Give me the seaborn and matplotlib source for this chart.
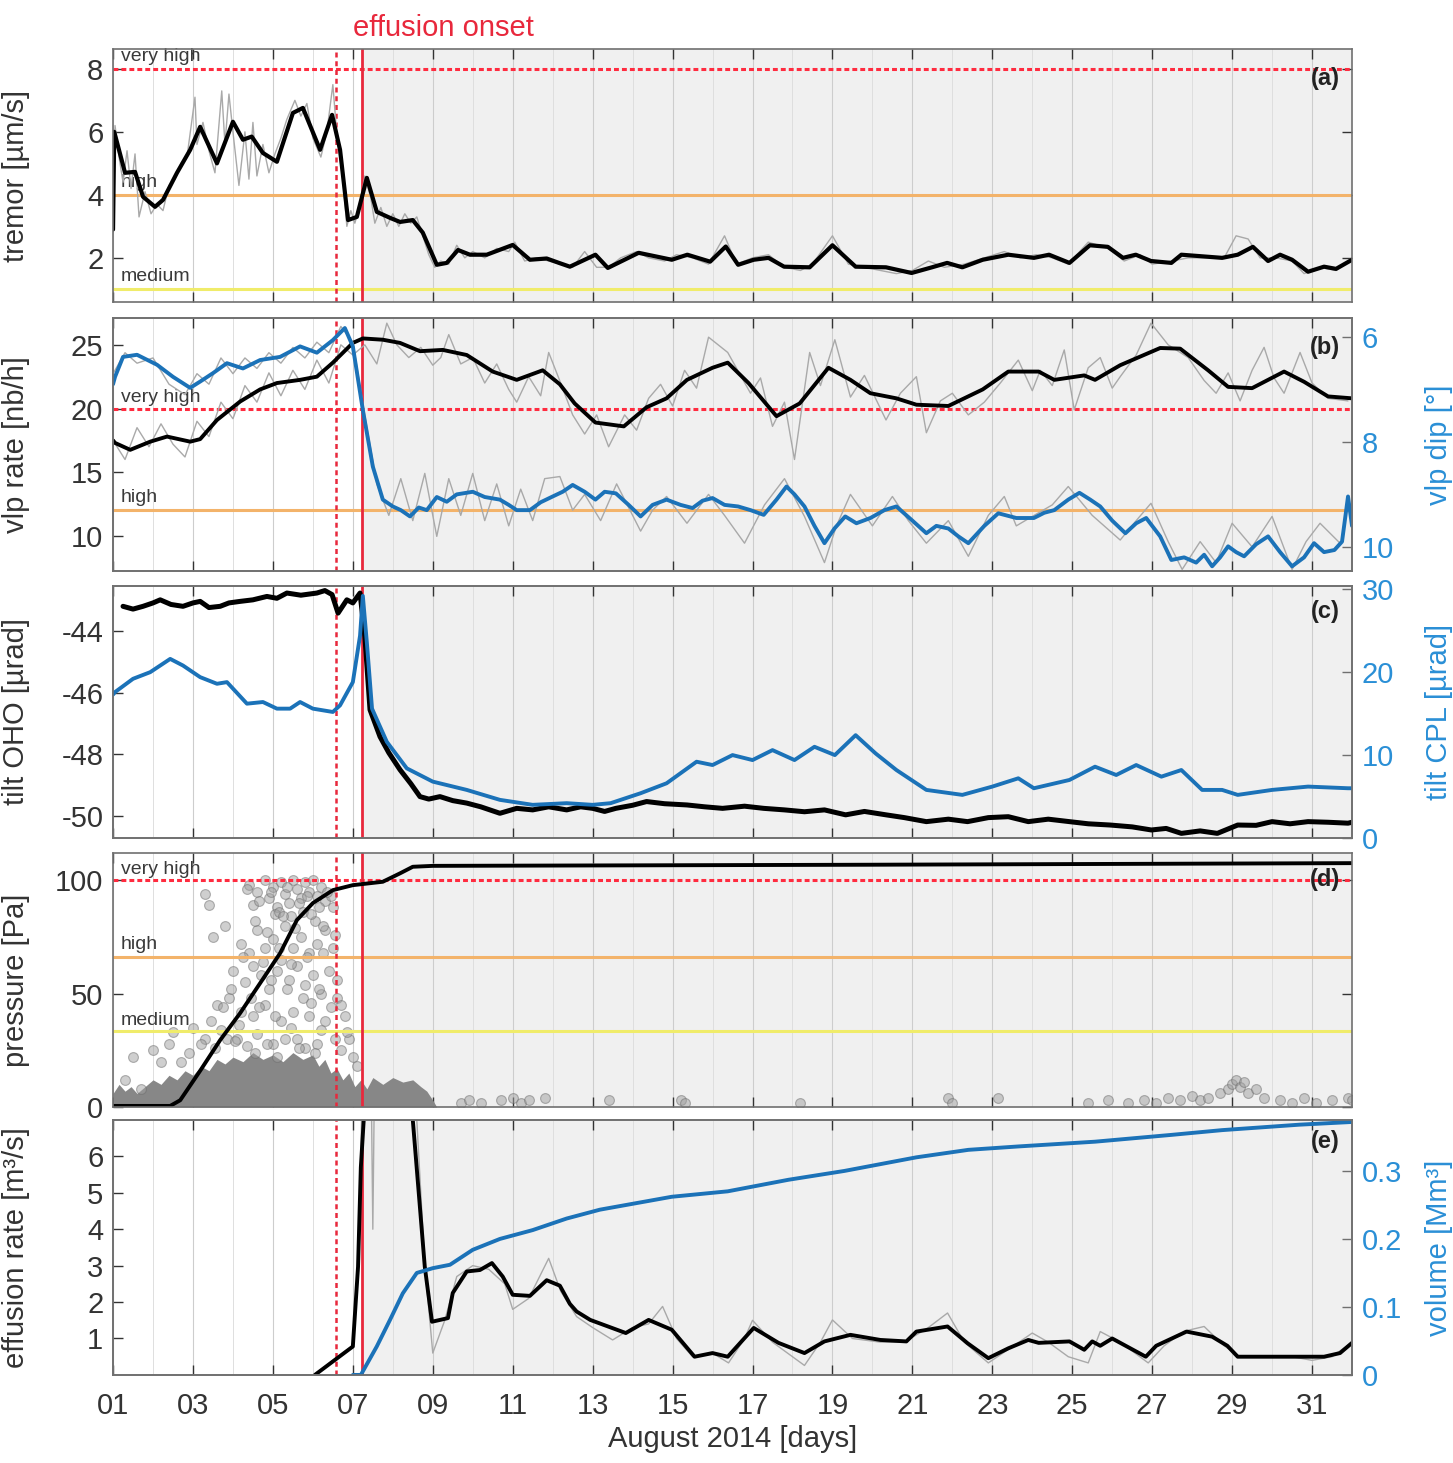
'''
Multi-panel monitoring time series, August 2014 (tremor, vlp, tilt, pressure, effusion).
'''
import matplotlib
matplotlib.use('Agg')
import matplotlib.pyplot as plt
import seaborn as sns

# ---- data (day of August 2014, value) ---------------------------------------
pre_onset = 6.58
onset = 7.22

# (a) tremor [um/s]
tremor_day = [1.0, 1.03, 1.3, 1.55, 1.75, 2.05, 2.25, 2.6, 2.93, 3.18, 3.6, 4.0, 4.25, 4.47, 4.75,
              5.1, 5.5, 5.75, 6.18, 6.48, 6.68, 6.88, 7.1, 7.35, 7.6, 7.93, 8.18, 8.5, 8.75, 9.1,
              9.35, 9.63, 9.93, 10.35, 11.0, 11.43, 11.85, 12.18, 12.43, 13.07, 13.38, 14.15, 14.98,
              15.37, 15.94, 16.33, 16.64, 17.03, 17.4, 17.79, 18.43, 19.0, 19.58, 20.34, 20.98,
              21.49, 21.87, 22.25, 22.76, 23.4, 24.04, 24.42, 24.93, 25.44, 25.89, 26.27, 26.59,
              26.97, 27.48, 27.73, 28.75, 29.14, 29.52, 29.9, 30.2, 30.5, 30.9, 31.3, 31.6, 32.0]
tremor_val = [2.9, 6.0, 4.7, 4.73, 3.94, 3.62, 3.84, 4.7, 5.43, 6.16, 5.0, 6.32, 5.75, 5.85, 5.33,
              5.05, 6.6, 6.76, 5.43, 6.54, 5.43, 3.2, 3.3, 4.54, 3.46, 3.27, 3.14, 3.2, 2.8, 1.78,
              1.84, 2.25, 2.1, 2.1, 2.41, 1.94, 1.98, 1.83, 1.72, 2.10, 1.68, 2.16, 1.94,
              2.10, 1.88, 2.36, 1.78, 1.94, 2.0, 1.72, 1.70, 2.4, 1.72, 1.70, 1.52,
              1.70, 1.84, 1.70, 1.94, 2.10, 2.0, 2.1, 1.84, 2.40, 2.35, 2.0, 2.1,
              1.9, 1.84, 2.1, 2.0, 2.1, 2.35, 1.9, 2.1, 1.94, 1.56, 1.72, 1.65, 1.94]
tremor_raw_day = [1.0, 1.05, 1.15, 1.25, 1.35, 1.45, 1.55, 1.65, 1.8, 1.95, 2.1, 2.25, 2.4, 2.55,
                  2.7, 2.85, 3.05, 3.1, 3.25, 3.4, 3.55, 3.72, 3.8, 3.9, 4.0, 4.15, 4.3, 4.4, 4.5,
                  4.6, 4.75, 4.9, 5.05, 5.2, 5.35, 5.55, 5.7, 5.85, 6.0, 6.2, 6.35, 6.5, 6.6, 6.75,
                  6.85, 6.95, 7.05, 7.2, 7.3, 7.45, 7.55, 7.7, 7.85, 8.0, 8.15, 8.3, 8.45, 8.6,
                  8.75, 8.9, 9.05, 9.2, 9.4, 9.6, 9.8, 10.0, 10.3, 10.6, 10.9, 11.05, 11.3, 11.6,
                  11.9, 12.2, 12.5, 12.8, 13.1, 13.4, 13.7, 14.1, 14.4, 14.8, 15.1, 15.5, 15.9,
                  16.3, 16.6, 17.0, 17.4, 17.8, 18.2, 18.5, 19.0, 19.4, 19.8, 20.2, 20.6, 21.0,
                  21.4, 21.8, 22.3, 22.8, 23.3, 23.7, 24.1, 24.5, 24.9, 25.4, 25.9, 26.3, 26.7,
                  27.0, 27.5, 27.9, 28.4, 28.8, 29.1, 29.4, 29.7, 30.1, 30.5, 30.8, 31.2, 31.6, 32.0]
tremor_raw_val = [2.8, 6.2, 5.2, 4.4, 5.4, 4.2, 5.3, 3.3, 4.1, 3.4, 3.7, 3.5, 4.3, 4.5,
                  5.0, 5.2, 7.1, 5.6, 6.3, 5.4, 4.7, 7.3, 5.6, 7.2, 6.0, 4.3, 6.0, 4.5, 6.3,
                  4.6, 5.6, 4.7, 5.3, 5.8, 6.4, 7.0, 6.5, 6.9, 5.8, 5.2, 6.0, 7.5, 5.9, 4.5,
                  3.0, 3.5, 3.1, 3.8, 4.6, 3.9, 3.1, 3.6, 3.0, 3.4, 3.0, 3.4, 3.1, 3.3,
                  2.7, 2.1, 1.7, 1.9, 1.8, 2.4, 2.0, 2.2, 2.0, 2.3, 2.2, 2.5, 1.9, 2.0,
                  1.9, 1.8, 1.7, 2.2, 1.7, 1.7, 2.0, 2.2, 2.0, 1.9, 2.1, 2.0, 1.8,
                  2.7, 1.8, 2.0, 2.1, 1.7, 1.6, 1.8, 2.7, 1.8, 1.7, 1.6, 1.5, 1.6,
                  1.9, 1.7, 1.8, 2.0, 2.2, 2.0, 2.1, 2.0, 1.8, 2.5, 2.3, 1.9, 2.1,
                  1.8, 1.9, 2.0, 2.0, 2.0, 2.7, 2.6, 2.0, 2.0, 1.9, 1.5, 1.7, 1.6, 2.0]

# (b) vlp rate [nb/h] and vlp dip [deg]
vlp_day = [1.0, 1.05, 1.43, 1.93, 2.35, 2.93, 3.18, 3.6, 4.18, 4.68, 5.1, 5.68, 6.1, 6.5, 7.0,
           7.25, 7.75, 8.18, 8.68, 9.25, 9.85, 10.5, 11.1, 11.75, 12.18, 12.55, 13.07, 13.78,
           14.35, 14.85, 15.36, 16.0, 16.38, 16.9, 17.6, 18.18, 18.9, 19.45, 19.95, 20.6, 21.1,
           21.9, 22.76, 23.4, 24.16, 24.55, 25.3, 25.57, 26.2, 27.2, 27.7, 28.4, 28.9, 29.5,
           30.3, 30.8, 31.4, 32.0]
vlp_rate = [17.5, 17.3, 16.76, 17.4, 17.8, 17.4, 17.6, 19.1, 20.55, 21.5, 22.0, 22.25, 22.5, 23.6,
            25.15, 25.5, 25.4, 25.15, 24.5, 24.6, 24.2, 22.9, 22.25, 23.0, 21.9, 20.4, 18.9, 18.6,
            20.1, 20.8, 22.25, 23.2, 23.6, 22.0, 19.4, 20.4, 23.2, 22.25, 21.2, 20.8, 20.3,
            20.2, 21.5, 22.9, 22.9, 22.25, 22.6, 22.25, 23.4, 24.75, 24.7, 23.0, 21.7, 21.6,
            22.9, 22.1, 20.95, 20.8]
vlp_raw_day = [1.0, 1.3, 1.6, 1.9, 2.2, 2.5, 2.8, 3.1, 3.4, 3.7, 4.0, 4.3, 4.6, 4.9, 5.2, 5.5,
               5.8, 6.1, 6.4, 6.7, 7.0, 7.3, 7.6, 7.85, 8.1, 8.4, 8.7, 9.0, 9.2, 9.4, 9.7, 10.0,
               10.3, 10.6, 10.9, 11.1, 11.4, 11.7, 11.9, 12.2, 12.5, 12.8, 13.1, 13.4, 13.8, 14.1,
               14.4, 14.7, 15.0, 15.3, 15.6, 15.9, 16.38, 16.7, 16.95, 17.2, 17.5, 17.8, 18.05,
               18.43, 18.7, 19.06, 19.45, 19.8, 20.34, 20.7, 21.1, 21.35, 21.7, 22.0, 22.4, 22.8,
               23.2, 23.65, 24.0, 24.2, 24.5, 24.8, 25.05, 25.4, 25.7, 26.0, 26.2, 26.6, 26.97,
               27.4, 27.9, 28.3, 28.6, 28.9, 29.2, 29.5, 29.8, 30.05, 30.3, 30.7, 31.0, 31.4,
               31.9]
vlp_raw_rate = [17.5, 16.0, 18.5, 17.0, 18.8, 17.2, 16.2, 19.0, 17.8, 20.5, 19.2, 21.8, 20.5,
                22.8, 21.0, 23.0, 21.5, 23.8, 22.0, 25.0, 24.2, 25.0, 23.5, 26.7, 25.0, 24.0,
                24.8, 23.4, 24.0, 25.8, 23.5, 24.0, 22.0, 23.5, 21.5, 20.5, 22.5, 21.0, 24.4,
                22.0, 19.5, 18.0, 19.5, 17.0, 19.5, 18.3, 20.8, 21.9, 20.2, 23.0, 21.6, 25.6,
                24.4, 22.6, 21.2, 22.4, 18.6, 20.5, 16.0, 24.4, 21.8, 25.4, 20.9, 22.6, 19.1,
                21.2, 22.5, 18.1, 20.6, 21.2, 19.5, 20.5, 22.0, 23.8, 21.4, 23.0, 21.8, 24.6,
                19.9, 23.2, 24.0, 21.6, 22.5, 24.2, 26.7, 25.0, 24.0, 22.2, 21.2, 22.8, 20.6,
                23.0, 24.8, 22.4, 21.2, 24.4, 22.0, 20.8, 20.6]
dip_day = [1.0, 1.05, 1.25, 1.6, 2.1, 2.5, 2.93, 3.18, 3.5, 3.85, 4.25, 4.68, 5.18, 5.68, 6.1,
           6.5, 6.8, 7.0, 7.25, 7.5, 7.75, 8.0, 8.2, 8.43, 8.65, 8.85, 9.1, 9.35, 9.6, 10.0,
           10.3, 10.68, 10.9, 11.1, 11.43, 11.7, 12.0, 12.25, 12.5, 12.8, 13.07, 13.3, 13.58,
           13.9, 14.2, 14.5, 14.85, 15.2, 15.5, 15.75, 16.0, 16.3, 16.64, 16.95, 17.28, 17.6,
           17.85, 18.05, 18.3, 18.55, 18.8, 19.05, 19.32, 19.6, 19.95, 20.3, 20.6, 21.0, 21.35,
           21.6, 21.9, 22.15, 22.4, 22.8, 23.15, 23.6, 24.04, 24.3, 24.55, 24.9, 25.18, 25.45,
           25.7, 26.0, 26.33, 26.6, 26.85, 27.2, 27.48, 27.8, 28.1, 28.3, 28.5, 28.7, 28.9,
           29.1, 29.3, 29.6, 29.9, 30.2, 30.5, 30.8, 31.05, 31.3, 31.56, 31.75, 31.9, 32.0]
dip_val = [6.9, 6.76, 6.38, 6.34, 6.53, 6.76, 6.97, 6.85, 6.69, 6.5, 6.6, 6.44, 6.38, 6.18, 6.3,
           6.06, 5.83, 6.18, 7.39, 8.47, 9.1, 9.23, 9.3, 9.42, 9.25, 9.3, 9.05, 9.14, 9.0, 8.95,
           9.05, 9.1, 9.2, 9.3, 9.3, 9.15, 9.04, 8.95, 8.82, 8.95, 9.1, 8.95, 8.98,
           9.2, 9.42, 9.2, 9.1, 9.2, 9.26, 9.12, 9.07, 9.2, 9.23, 9.3, 9.39, 9.1,
           8.85, 9.0, 9.23, 9.6, 9.93, 9.65, 9.42, 9.55, 9.45, 9.3, 9.23, 9.5, 9.74,
           9.6, 9.65, 9.8, 9.93, 9.6, 9.36, 9.45, 9.45, 9.35, 9.3, 9.1, 8.97, 9.1,
           9.23, 9.5, 9.74, 9.55, 9.45, 9.8, 10.25, 10.2, 10.3, 10.15, 10.37, 10.2, 9.99,
           10.1, 10.18, 9.95, 9.8, 10.1, 10.37, 10.2, 9.93, 10.1, 10.06, 9.9, 9.04, 9.6]
dip_raw_day = [1.0, 1.3, 1.6, 2.0, 2.4, 2.8, 3.1, 3.4, 3.7, 4.0, 4.3, 4.6, 4.9, 5.2, 5.5, 5.8,
               6.1, 6.4, 6.7, 7.0, 7.3, 7.6, 7.9, 8.2, 8.5, 8.8, 9.1, 9.4, 9.7, 10.0, 10.3, 10.6,
               10.9, 11.2, 11.5, 11.8, 12.18, 12.5, 12.8, 13.2, 13.6, 14.2, 14.5, 14.85, 15.36,
               15.9, 16.3, 16.8, 17.3, 17.8, 18.3, 18.8, 19.1, 19.45, 20.0, 20.5, 20.9, 21.35,
               21.9, 22.4, 22.9, 23.3, 23.6, 24.0, 24.5, 24.9, 25.5, 26.2, 26.6, 26.97, 27.4,
               27.75, 28.2, 28.6, 29.0, 29.5, 30.0, 30.5, 30.85, 31.2, 31.7]
dip_raw_val = [6.7, 6.3, 6.5, 6.4, 6.9, 7.1, 6.7, 6.9, 6.4, 6.7, 6.4, 6.6, 6.3, 6.5, 6.2, 6.4,
               6.1, 6.3, 5.8, 6.1, 7.5, 8.8, 9.4, 8.7, 9.5, 8.6, 9.8, 8.7, 9.4, 8.6, 9.5, 8.8,
               9.6, 8.9, 9.5, 8.7, 8.66, 9.3, 9.0, 9.5, 8.8, 9.7, 9.3, 9.04, 9.55, 9.0, 9.4,
               9.93, 9.2, 8.7, 9.42, 10.3, 9.6, 9.0, 9.6, 9.04, 9.5, 9.93, 9.5, 10.18, 9.4,
               9.04, 9.6, 9.42, 9.2, 8.85, 9.4, 9.87, 9.5, 9.17, 9.9, 10.43, 9.9, 10.3, 9.55,
               10.0, 9.42, 10.43, 9.9, 9.55, 9.93]

# (c) tilt OHO and tilt CPL [urad]
oho_day = [1.25, 1.5, 1.75, 2.0, 2.18, 2.45, 2.75, 3.0, 3.18, 3.4, 3.68, 3.9, 4.18, 4.5, 4.85,
           5.1, 5.35, 5.7, 6.1, 6.3, 6.48, 6.63, 6.85, 7.0, 7.18, 7.3, 7.43, 7.68, 7.9, 8.18,
           8.45, 8.68, 8.9, 9.18, 9.5, 9.85, 10.2, 10.68, 11.1, 11.5, 11.9, 12.35, 12.7, 13.0,
           13.3, 13.58, 14.0, 14.35, 14.8, 15.36, 15.8, 16.25, 16.8, 17.28, 17.8, 18.3, 18.8,
           19.33, 19.8, 20.34, 20.8, 21.35, 21.9, 22.38, 22.9, 23.4, 23.9, 24.4, 24.93, 25.4,
           25.95, 26.5, 26.98, 27.35, 27.73, 28.2, 28.63, 29.14, 29.6, 30.0, 30.45, 30.9,
           31.4, 31.9, 32.0]
oho_val = [-43.21, -43.3, -43.21, -43.1, -43.0, -43.15, -43.21, -43.1, -43.05, -43.25, -43.21,
           -43.1, -43.05, -43.0, -42.89, -42.95, -42.78, -42.85, -42.78, -42.7, -42.83, -43.43,
           -43.0, -43.1, -42.78, -44.18, -46.56, -47.43, -47.95, -48.5, -48.95, -49.37, -49.45,
           -49.37, -49.5, -49.58, -49.7, -49.91, -49.75, -49.8, -49.7, -49.8, -49.7, -49.75,
           -49.85, -49.75, -49.65, -49.53, -49.6, -49.64, -49.7, -49.75, -49.68, -49.75,
           -49.8, -49.86, -49.8, -49.96, -49.85, -49.96, -50.05, -50.18, -50.1, -50.18, -50.05,
           -50.02, -50.18, -50.1, -50.18, -50.25, -50.29, -50.35, -50.45, -50.4, -50.56,
           -50.48, -50.56, -50.29, -50.3, -50.18, -50.25, -50.18, -50.2, -50.23, -50.2]
cpl_day = [1.0, 1.05, 1.5, 1.93, 2.43, 2.75, 3.18, 3.6, 3.85, 4.35, 4.75, 5.1, 5.43, 5.68, 6.0,
           6.5, 6.68, 7.0, 7.18, 7.25, 7.35, 7.48, 7.85, 8.35, 9.0, 9.85, 10.68, 11.5, 12.35,
           13.0, 13.45, 14.2, 14.85, 15.6, 16.0, 16.5, 17.0, 17.5, 18.05, 18.55, 19.06, 19.58,
           20.08, 20.6, 21.35, 22.25, 23.0, 23.65, 24.04, 24.93, 25.57, 26.1, 26.6, 27.23,
           27.73, 28.25, 28.75, 29.14, 30.0, 30.9, 31.9, 32.0]
cpl_val = [17.3, 17.6, 19.2, 20.0, 21.6, 20.8, 19.4, 18.6, 18.8, 16.2, 16.4, 15.6, 15.6, 16.4,
           15.6, 15.2, 16.0, 18.8, 24.4, 29.2, 23.6, 15.6, 11.6, 8.4, 6.8, 5.8, 4.6, 4.0, 4.2,
           4.0, 4.2, 5.4, 6.6, 9.2, 8.8, 10.0, 9.4, 10.6, 9.4, 11.0, 10.0, 12.4,
           10.2, 8.2, 5.8, 5.2, 6.2, 7.2, 6.0, 7.0, 8.6, 7.6, 8.8, 7.4,
           8.2, 5.8, 5.8, 5.2, 5.8, 6.2, 6.0, 6.0]

# (d) infrasound pressure [Pa]
pres_day = [1.0, 2.43, 2.68, 3.18, 3.68, 4.18, 4.68, 5.18, 5.6, 6.0, 6.5, 7.0, 7.75, 8.18, 8.5,
            9.0, 20.0, 32.0]
pres_val = [0.5, 0.5, 3.0, 16.0, 29.5, 41.4, 54.6, 67.8, 82.4, 89.9, 95.6, 97.8, 99.3, 103.0,
            105.9, 106.3, 106.8, 107.5]
dense_day = [1.0, 1.15, 1.3, 1.45, 1.6, 1.8, 2.0, 2.2, 2.4, 2.6, 2.8, 3.0, 3.2, 3.4, 3.6, 3.8,
             4.0, 4.25, 4.5, 4.75, 5.0, 5.25, 5.5, 5.75, 6.0, 6.15, 6.3, 6.45, 6.6, 6.75, 6.9,
             7.05, 7.2, 7.35, 7.5, 7.75, 8.0, 8.25, 8.5, 8.7, 8.85, 9.0, 9.1]
dense_top = [6, 10, 7, 9, 6, 9, 12, 10, 14, 12, 16, 14, 18, 16, 21, 19, 22, 20, 24, 21, 23, 20,
             24, 21, 23, 18, 21, 15, 17, 12, 15, 9, 12, 8, 13, 10, 13, 11, 12, 9, 7, 3, 0]
event_day = [4.4, 4.6, 4.8, 4.9, 5.0, 5.1, 5.2, 5.3, 5.4, 5.5, 5.6, 5.7, 5.8, 5.9, 6.0, 6.1, 6.2,
             6.3, 4.5, 5.05, 5.45, 5.75, 6.05, 3.4, 3.3, 6.5, 6.45, 3.5, 3.8, 4.2, 4.4, 4.6, 4.8,
             5.0, 5.2, 5.3, 5.5, 5.7, 5.9, 6.1, 6.3, 6.5, 4.0, 4.3, 4.5, 4.7, 4.9, 5.1, 5.4, 5.6,
             5.8, 6.0, 6.2, 6.4, 6.6, 3.6, 3.9, 4.2, 4.5, 4.8, 5.2, 5.5, 5.9, 6.3, 6.8, 3.0, 3.3,
             2.5, 2.0, 1.5, 1.3, 3.7, 4.1, 4.6, 5.0, 5.6, 6.1, 6.7, 7.0, 6.9, 1.7, 2.2, 2.9,
             4.35, 4.65, 4.95, 5.15, 5.35, 5.65, 5.85, 6.15, 6.35, 4.55, 4.85, 5.25, 5.55, 5.95,
             6.25, 6.55, 4.25, 4.75, 5.15, 5.45, 5.85, 6.25, 3.95, 4.45, 4.95, 5.35, 5.75,
             6.15, 6.6, 3.75, 4.15, 4.65, 5.05, 5.45, 5.95, 6.45, 6.85, 3.45, 3.85, 4.35, 4.85,
             5.3, 5.8, 6.2, 6.7, 3.2, 3.55, 4.05, 4.55, 5.1, 5.65, 6.05, 6.55, 7.1, 2.7, 2.4,
             9.7, 9.9, 10.2, 10.7, 11.0, 11.2, 11.4, 11.8, 13.4, 15.2, 15.3, 18.2, 21.9, 22.0,
             23.15, 25.4, 25.9, 26.4, 26.8, 27.1, 27.4, 27.7, 28.0, 28.2, 28.4, 28.7, 28.9, 29.0,
             29.1, 29.2, 29.3, 29.4, 29.6, 29.8, 30.2, 30.5, 30.8, 31.1, 31.5, 31.9, 32.0]
event_pa = [98, 95, 100, 92, 97, 88, 99, 94, 90, 100, 96, 92, 99, 95, 100, 93, 97,
            91, 89, 85, 84, 86, 82, 89, 94, 88, 93, 75, 80, 72, 68, 78, 70,
            74, 65, 80, 70, 75, 68, 72, 78, 70, 60, 55, 62, 58, 52, 60, 56, 62,
            54, 58, 50, 60, 48, 45, 48, 42, 40, 45, 38, 42, 40, 38, 40, 35, 30,
            33, 25, 22, 12, 34, 30, 32, 28, 30, 28, 25, 22, 30, 8, 20, 24,
            96, 91, 95, 86, 97, 90, 93, 88, 95, 82, 77, 84, 79, 85, 80, 76,
            66, 64, 70, 63, 66, 68, 52, 48, 56, 52, 48, 52, 56,
            44, 36, 44, 40, 35, 46, 44, 33, 38, 30, 27, 28,
            30, 26, 34, 45, 28, 26, 29, 24, 22, 26, 24, 30, 18, 20, 28,
            2, 3, 2, 3, 4, 2, 3, 4, 3, 3, 2, 2, 4, 2,
            4, 2, 3, 2, 3, 2, 4, 3, 5, 3, 4, 6, 8, 10,
            12, 9, 11, 6, 8, 4, 3, 2, 4, 2, 3, 4, 3]

# (e) effusion rate [m3/s] and cumulative volume [Mm3]
eff_day = [6.05, 6.5, 7.0, 7.13, 7.2, 7.3, 7.4, 8.4, 8.5, 8.8, 8.98, 9.38, 9.5, 9.85, 10.18,
           10.48, 10.75, 11.0, 11.43, 11.85, 12.18, 12.43, 12.6, 12.94, 13.83, 14.4, 14.98,
           15.55, 16.0, 16.38, 17.03, 17.65, 18.3, 18.8, 19.45, 20.2, 20.85, 21.1, 21.88, 22.38,
           22.9, 23.4, 23.9, 24.16, 24.93, 25.3, 25.5, 25.7, 26.0, 26.84, 27.1, 27.86, 28.5,
           28.88, 29.14, 31.3, 31.7, 32.0]
eff_val = [0.0, 0.37, 0.78, 2.97, 5.7, 7.5, 20.0, 20.0, 7.0, 2.97, 1.46, 1.56, 2.25, 2.84, 2.88,
           3.07, 2.7, 2.2, 2.17, 2.6, 2.45, 1.95, 1.74, 1.51, 1.15, 1.51, 1.24,
           0.5, 0.6, 0.5, 1.29, 0.88, 0.6, 0.92, 1.1, 0.96, 0.92, 1.19, 1.33, 0.87,
           0.46, 0.73, 0.96, 0.88, 0.92, 0.69, 0.92, 0.8, 1.0, 0.5, 0.8, 1.19, 1.05,
           0.8, 0.5, 0.5, 0.6, 0.88]
eff_raw_day = [6.05, 6.5, 7.0, 7.15, 7.25, 7.45, 7.5, 7.55, 8.5, 8.8, 9.0, 9.3, 9.6, 10.0, 10.4,
               10.8, 11.0, 11.4, 11.9, 12.2, 12.6, 13.0, 13.5, 14.0, 14.4, 14.75, 15.1, 15.5,
               16.0, 16.4, 16.8, 17.0, 17.5, 18.3, 18.7, 19.0, 19.5, 20.2, 20.8, 21.4, 21.88,
               22.3, 22.9, 23.4, 24.0, 24.4, 24.9, 25.4, 25.7, 26.2, 26.9, 27.3, 27.8, 28.3,
               28.8, 29.2, 30.5, 31.0, 31.5, 32.0]
eff_raw_val = [0.0, 0.4, 0.8, 3.0, 9.0, 9.0, 4.0, 9.0, 9.0, 3.0, 0.6, 1.5, 2.7, 3.0, 2.9,
               2.5, 1.8, 2.1, 3.2, 2.3, 1.6, 1.3, 0.96, 1.3, 1.4, 1.88, 1.0, 0.5,
               0.6, 0.33, 1.0, 1.5, 0.9, 0.26, 0.9, 1.51, 1.0, 0.9, 0.9, 1.3, 1.7,
               0.9, 0.33, 0.7, 1.15, 0.9, 0.5, 0.33, 1.19, 0.9, 0.33, 0.8, 1.2, 1.33,
               0.8, 0.5, 0.5, 0.4, 0.5, 0.9]
vol_day = [7.0, 7.2, 7.6, 7.93, 8.25, 8.6, 9.0, 9.43, 10.0, 10.68, 11.5, 12.35, 13.18, 14.98,
           16.38, 17.9, 19.3, 21.1, 22.4, 23.65, 25.57, 27.48, 28.75, 30.68, 32.0]
vol_val = [0.0, 0.0, 0.042, 0.081, 0.12, 0.15, 0.157, 0.162, 0.184, 0.2, 0.213, 0.23, 0.243, 0.262,
           0.27, 0.287, 0.3, 0.32, 0.331, 0.336, 0.343, 0.353, 0.36, 0.368, 0.372]

# ---- style ------------------------------------------------------------------
sns.set_style('ticks')
plt.rcParams['font.family'] = ['Liberation Sans', 'DejaVu Sans']
plt.rcParams['axes.unicode_minus'] = False

BLUE = '#1b72b8'
BLUE_TXT = '#2a8fd6'
TXT = '#333333'
RED = '#e8283c'
LEVEL_RED = '#ff2b3f'
LEVEL_ORANGE = '#f3b36a'
LEVEL_YELLOW = '#f0ec6a'
FS = 21

fig = plt.figure(figsize=(14.53, 14.63), dpi=100)
L, W = 0.0778, 0.8527
ax_a = fig.add_axes([L, 0.7936, W, 0.1729])
ax_b = fig.add_axes([L, 0.6097, W, 0.1729])
ax_c = fig.add_axes([L, 0.4272, W, 0.1723])
ax_d = fig.add_axes([L, 0.2433, W, 0.1737])
ax_e = fig.add_axes([L, 0.0602, W, 0.1743])
axes = [ax_a, ax_b, ax_c, ax_d, ax_e]


def base_style(ax, twin=False):
    ax.set_xlim(1, 32)
    ax.set_xticks(range(1, 32, 2))
    ax.set_xticks(range(1, 33), minor=True)
    ax.grid(axis='x', which='major', color='#cdcdcd', lw=0.8)
    ax.grid(axis='x', which='minor', color='#dedede', lw=0.7)
    ax.set_axisbelow(True)
    ax.axvspan(onset, 32, color='#f0f0f0', lw=0, zorder=0.1)
    ax.tick_params(direction='in', length=7, width=1, top=True, right=not twin,
                   labelsize=FS, colors=TXT, pad=7)
    ax.tick_params(axis='x', pad=12)
    ax.tick_params(which='minor', length=0)
    for s in ax.spines.values():
        s.set_color('#707070')
        s.set_linewidth(1.2)
    ax.axvline(pre_onset, color=RED, lw=1.8, ls=(0, (2, 1.5)), zorder=1.8)
    ax.axvline(onset, color=RED, lw=2.0, zorder=1.8)
    ax.yaxis.set_label_coords(-0.067, 0.5)


def twin_style(ax2, label):
    ax2.tick_params(direction='in', length=7, width=1, labelsize=FS, colors=BLUE_TXT, pad=7)
    ax2.tick_params(axis='y', colors='#707070', labelcolor=BLUE_TXT)
    for s in ax2.spines.values():
        s.set_color('#707070')
        s.set_linewidth(1.2)
    ax2.set_ylabel(label, fontsize=FS, color=BLUE_TXT)
    ax2.yaxis.set_label_coords(1.059, 0.5)


def level(ax, y, color, dotted=False):
    ls = (0, (1.6, 1.0)) if dotted else '-'
    ax.axhline(y, color=color, lw=2.2, ls=ls, zorder=1.6)


def level_text(ax, y, s):
    ax.text(1.2, y, s, fontsize=14, color='#3a3a3a', va='center', ha='left', zorder=1.7)


def line(ax, x, y, color='black', lw=2.8):
    sns.lineplot(x=x, y=y, ax=ax, color=color, linewidth=lw, estimator=None, sort=False,
                 legend=False)


def raw(ax, x, y):
    sns.lineplot(x=x, y=y, ax=ax, color='#a9a9a9', linewidth=1.0, estimator=None, sort=False,
                 legend=False)


for ax in axes:
    base_style(ax, twin=ax in (ax_b, ax_c, ax_e))
    if ax is not ax_e:
        ax.tick_params(labelbottom=False)

# (a) tremor
level(ax_a, 8, LEVEL_RED, dotted=True)
level(ax_a, 4, LEVEL_ORANGE)
level(ax_a, 1, LEVEL_YELLOW)
level_text(ax_a, 8.38, 'very high')
level_text(ax_a, 4.38, 'high')
level_text(ax_a, 1.4, 'medium')
raw(ax_a, tremor_raw_day, tremor_raw_val)
line(ax_a, tremor_day, tremor_val, lw=3.0)
ax_a.set_ylim(0.6, 8.63)
ax_a.set_yticks([2, 4, 6, 8])
ax_a.set_ylabel('tremor [µm/s]', fontsize=FS, color=TXT)

# (b) vlp rate / dip
level(ax_b, 20, LEVEL_RED, dotted=True)
level(ax_b, 12, LEVEL_ORANGE)
level_text(ax_b, 20.9, 'very high')
level_text(ax_b, 13.0, 'high')
raw(ax_b, vlp_raw_day, vlp_raw_rate)
line(ax_b, vlp_day, vlp_rate)
ax_b.set_ylim(7.25, 27.1)
ax_b.set_yticks([10, 15, 20, 25])
ax_b.set_ylabel('vlp rate [nb/h]', fontsize=FS, color=TXT)
ax_b2 = ax_b.twinx()
raw(ax_b2, dip_raw_day, dip_raw_val)
line(ax_b2, dip_day, dip_val, color=BLUE)
ax_b2.set_ylim(10.46, 5.64)
ax_b2.set_yticks([6, 8, 10])
twin_style(ax_b2, 'vlp dip [°]')

# (c) tilt
line(ax_c, oho_day, oho_val, lw=3.6)
ax_c.set_ylim(-50.71, -42.55)
ax_c.set_yticks([-50, -48, -46, -44])
ax_c.set_ylabel('tilt OHO [µrad]', fontsize=FS, color=TXT)
ax_c2 = ax_c.twinx()
line(ax_c2, cpl_day, cpl_val, color=BLUE)
ax_c2.set_ylim(0, 30.4)
ax_c2.set_yticks([0, 10, 20, 30])
twin_style(ax_c2, 'tilt CPL [µrad]')

# (d) pressure
level(ax_d, 100, LEVEL_RED, dotted=True)
level(ax_d, 66, LEVEL_ORANGE)
level(ax_d, 33.5, LEVEL_YELLOW)
level_text(ax_d, 104.8, 'very high')
level_text(ax_d, 71.8, 'high')
level_text(ax_d, 38.3, 'medium')
ax_d.fill_between(dense_day, 0, dense_top, color='#878787', lw=0, zorder=1.5)
sns.scatterplot(x=event_day, y=event_pa, ax=ax_d, s=50, color='#a0a0a0', alpha=0.5,
                edgecolor='#6c6c6c', linewidth=0.8, zorder=1.55, legend=False)
line(ax_d, pres_day, pres_val)
ax_d.set_ylim(0, 112)
ax_d.set_yticks([0, 50, 100])
ax_d.set_ylabel('pressure [Pa]', fontsize=FS, color=TXT)

# (e) effusion rate / volume
raw(ax_e, eff_raw_day, eff_raw_val)
line(ax_e, eff_day, eff_val)
ax_e.set_ylim(0, 7)
ax_e.set_yticks([1, 2, 3, 4, 5, 6])
ax_e.set_ylabel('effusion rate [m³/s]', fontsize=FS, color=TXT)
ax_e.set_xticklabels(['%02d' % d for d in range(1, 32, 2)])
ax_e.set_xlabel('August 2014 [days]', fontsize=FS, color=TXT, labelpad=4)
ax_e2 = ax_e.twinx()
line(ax_e2, vol_day, vol_val, color=BLUE)
ax_e2.set_ylim(0, 0.375)
ax_e2.set_yticks([0, 0.1, 0.2, 0.3])
ax_e2.set_yticklabels(['0', '0.1', '0.2', '0.3'])
twin_style(ax_e2, 'volume [Mm³]')

for ax, lab, yy in zip(axes, 'abcde', [0.885, 0.885, 0.897, 0.894, 0.914]):
    ax.text(0.99, yy, '(%s)' % lab, transform=ax.transAxes, ha='right', va='center',
            fontsize=17, fontweight='bold', color='#222222', zorder=5)

fig.text(0.243, 0.981, 'effusion onset', color=RED, fontsize=FS, ha='left', va='center')

fig.savefig('out.png', dpi=100)
